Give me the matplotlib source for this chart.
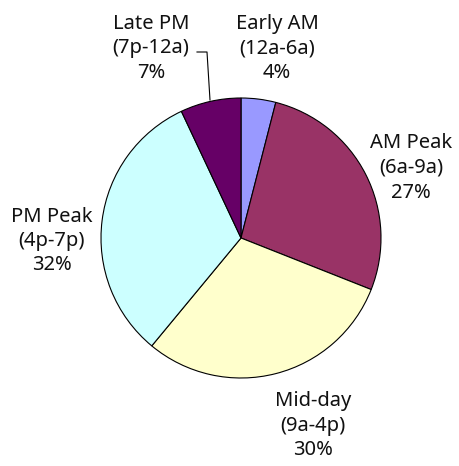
import matplotlib.pyplot as plt

# share of daily trips by time period
periods = ['Early AM', 'AM Peak', 'Mid-day', 'PM Peak', 'Late PM']
hours = ['12a-6a', '6a-9a', '9a-4p', '4p-7p', '7p-12a']
shares = [4, 27, 30, 32, 7]
colors = ['#9999FF', '#993366', '#FFFFCC', '#CCFFFF', '#660066']

W, H = 460, 466
fig = plt.figure(figsize=(W / 100, H / 100), dpi=100)
ax = fig.add_axes([0, 0, 1, 1])

cx, cy, r = 241, H - 238, 140
ax.pie(shares, colors=colors, startangle=90, counterclock=False,
       center=(cx, cy), radius=r, frame=True,
       wedgeprops=dict(edgecolor='black', linewidth=0.8))
ax.set_xlim(0, W)
ax.set_ylim(0, H)
ax.set_aspect('equal')
ax.axis('off')

# label anchors (centre of the three-line block), in pixels from top-left
label_pos = [(277, 48), (411, 168), (313, 426), (52, 241), (151, 48)]
for name, hrs, val, (lx, ly) in zip(periods, hours, shares, label_pos):
    ax.text(lx, H - ly, '%s\n(%s)\n%d%%' % (name, hrs, val),
            ha='center', va='center', fontsize=14.5, linespacing=1.3,
            family='Noto Sans', color='#111111')

# leader line for the small Late PM slice
ax.plot([197, 207, 210], [H - 52, H - 52, H - 100], color='black', lw=0.8)

fig.savefig('out.png', dpi=100)
